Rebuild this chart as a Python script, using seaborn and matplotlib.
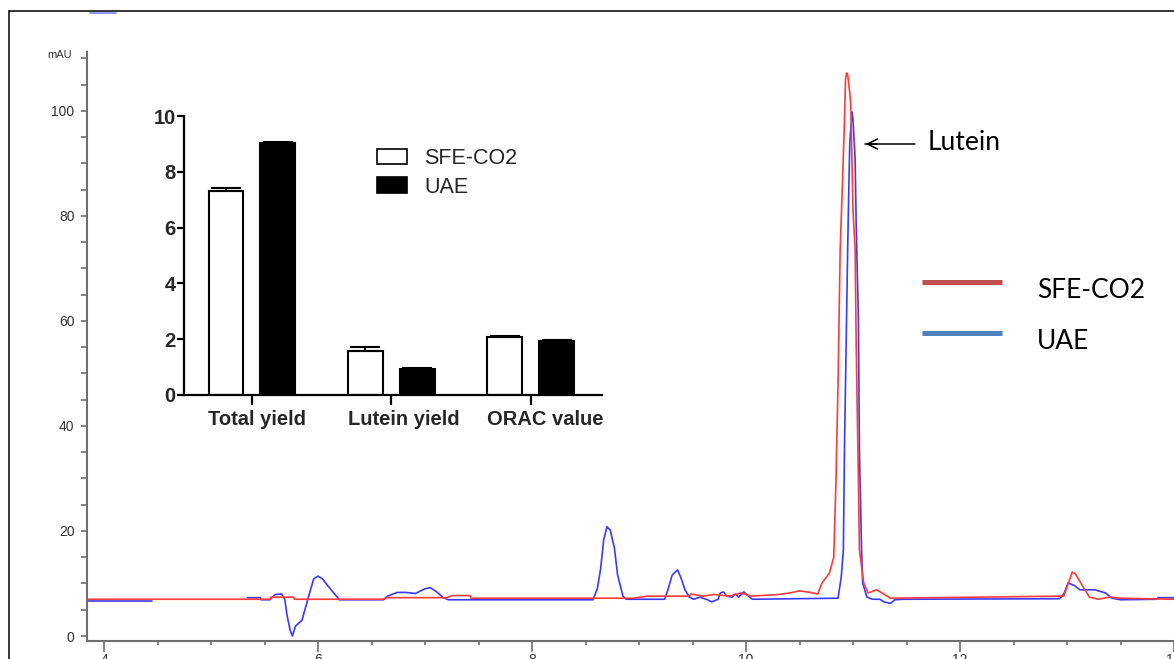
import numpy as np
import pandas as pd
import matplotlib
matplotlib.use("Agg")
import matplotlib.pyplot as plt
import seaborn as sns
from matplotlib.lines import Line2D
from matplotlib.patches import Patch
from matplotlib.ticker import MultipleLocator
from matplotlib.transforms import ScaledTranslation

# --- chromatogram traces (time in min, absorbance in mAU) ---
red_t = [3.84, 5.55, 5.56, 5.77, 5.78, 6.62, 6.63, 7.20, 7.26, 7.42, 7.43, 8.95, 9.08, 9.47,
         9.48, 9.60, 9.70, 9.85, 9.95, 10.05, 10.30, 10.41, 10.50, 10.60, 10.67, 10.71, 10.78,
         10.82, 10.84, 10.86, 10.88, 10.90, 10.92, 10.93, 10.94, 10.95, 10.97, 10.98, 10.99,
         11.00, 11.02, 11.03, 11.05, 11.06, 11.10, 11.14, 11.22, 11.27, 11.35, 12.97, 13.05,
         13.08, 13.14, 13.21, 13.29, 13.40, 13.50, 14.00]
red_y = [7.0, 7.0, 7.4, 7.4, 7.0, 7.0, 7.3, 7.3, 7.7, 7.7, 7.2, 7.2, 7.6, 7.6,
         8.0, 7.6, 7.9, 7.6, 8.2, 7.6, 7.9, 8.2, 8.6, 8.3, 8.0, 10.1, 12.0,
         15.0, 29.0, 48.0, 73.5, 85.5, 98.0, 106.0, 107.2, 106.9, 103.4, 100.8, 90.7,
         81.0, 73.5, 55.0, 30.0, 16.4, 10.1, 8.2, 8.8, 8.2, 7.2, 7.6, 12.2,
         11.8, 9.7, 7.4, 7.0, 7.4, 7.2, 7.0]

# blue trace has a break between ~4.45 and ~5.34 min
blue_t1 = [3.84, 4.45]
blue_y1 = [6.7, 6.7]
blue_t2 = [5.34, 5.46, 5.47, 5.55, 5.60, 5.66, 5.69, 5.71, 5.74, 5.76, 5.79, 5.85, 5.89, 5.93,
           5.96, 6.00, 6.04, 6.11, 6.18, 6.20, 6.61, 6.65, 6.74, 6.82, 6.91, 7.00, 7.05, 7.11,
           7.17, 7.22, 8.57, 8.61, 8.64, 8.67, 8.70, 8.73, 8.77, 8.80, 8.85, 8.88, 9.24, 9.27,
           9.31, 9.36, 9.39, 9.43, 9.47, 9.51, 9.57, 9.64, 9.68, 9.74, 9.76, 9.79, 9.82, 9.87,
           9.90, 9.93, 9.98, 10.01, 10.06, 10.86, 10.89, 10.91, 10.92, 10.94, 10.95, 10.96,
           10.97, 10.99, 11.00, 11.02, 11.03, 11.05, 11.06, 11.08, 11.09, 11.13, 11.18, 11.25,
           11.29, 11.35, 11.39, 11.47, 12.93, 12.97, 13.01, 13.07, 13.12, 13.26, 13.36, 13.42,
           13.50, 13.84, 13.85, 14.00]
blue_y2 = [7.3, 7.3, 6.9, 6.9, 7.9, 8.0, 6.9, 4.0, 1.1, 0.0, 1.9, 3.0, 5.9, 8.8,
           10.9, 11.4, 10.9, 9.1, 7.4, 6.9, 6.9, 7.6, 8.3, 8.3, 8.1, 9.0, 9.2, 8.4,
           7.3, 6.9, 6.9, 9.0, 12.6, 18.3, 20.8, 20.2, 16.8, 11.6, 7.6, 7.0, 7.0, 8.8,
           11.6, 12.6, 11.2, 8.8, 7.4, 7.0, 7.4, 6.9, 6.5, 7.0, 8.2, 8.4, 7.6, 7.4,
           8.0, 7.4, 8.4, 7.8, 7.0, 7.2, 11.2, 16.4, 35.4, 60.8, 73.5, 84.4,
           93.9, 99.8, 98.3, 90.7, 78.0, 60.8, 35.4, 16.4, 10.1, 7.4, 7.0, 7.0,
           6.5, 6.2, 6.9, 7.0, 7.1, 8.0, 10.1, 9.6, 8.8, 8.8, 8.2, 7.2,
           6.9, 7.0, 7.3, 7.3]

# --- inset bar chart ---
metrics = ["Total yield", "Lutein yield", "ORAC value"]
methods = ["SFE-CO2", "UAE"]
sfe_vals = [7.32, 1.59, 2.08]
uae_vals = [9.02, 0.94, 1.95]
sfe_err = [0.09, 0.12, 0.03]
uae_err = [0.04, 0.04, 0.03]

sns.set_style("ticks")
plt.rcParams["font.family"] = ["Liberation Sans", "DejaVu Sans"]

W, H = 1174, 659
fig = plt.figure(figsize=(W / 100, H / 100), dpi=100)


def fx(px):
    return px / W


def fy(py):
    return 1 - py / H


# main chromatogram axes
ax = fig.add_axes([fx(87), fy(641), fx(1174) - fx(87), fy(52) - fy(641)])
trace_df = pd.concat([
    pd.DataFrame({"time": blue_t1, "mAU": blue_y1, "trace": "UAE", "seg": "b1"}),
    pd.DataFrame({"time": blue_t2, "mAU": blue_y2, "trace": "UAE", "seg": "b2"}),
    pd.DataFrame({"time": red_t, "mAU": red_y, "trace": "SFE-CO2", "seg": "r1"}),
])
sns.lineplot(data=trace_df, x="time", y="mAU", hue="trace", units="seg",
             estimator=None, sort=False, hue_order=["UAE", "SFE-CO2"],
             palette={"UAE": "#3a3aff", "SFE-CO2": "#ff3a3a"},
             linewidth=1.2, legend=False, ax=ax)
ax.set_xlim(3.841, 14.0)
ax.set_ylim(-0.95, 111.2)
ax.set_xlabel("")
ax.set_ylabel("")
sns.despine(ax=ax)
gray = "#6e6e6e"
for s in ["left", "bottom"]:
    ax.spines[s].set_color(gray)
    ax.spines[s].set_linewidth(1.5)
ax.xaxis.set_major_locator(MultipleLocator(2))
ax.xaxis.set_minor_locator(MultipleLocator(0.5))
ax.yaxis.set_major_locator(MultipleLocator(20))
ax.yaxis.set_minor_locator(MultipleLocator(5))
ax.tick_params(axis="x", which="major", length=8, width=1.2, color=gray, labelsize=10,
               labelcolor="#333333", pad=1)
ax.tick_params(axis="x", which="minor", length=3, width=1.2, color=gray)
ax.tick_params(axis="y", which="both", length=4, width=1.2, color=gray, labelsize=10,
               labelcolor="#333333", pad=5)
fig.text(fx(47), fy(55), "mAU", fontsize=8, color="#333333", ha="left", va="center")

# Lutein annotation
fig.add_artist(Line2D([fx(865), fx(915)], [fy(144), fy(144)], color="black", lw=1.1))
ax.annotate("", xy=(fx(863), fy(144)), xytext=(fx(880), fy(144)),
            xycoords="figure fraction", textcoords="figure fraction",
            arrowprops=dict(arrowstyle="->", color="black", lw=1.1, mutation_scale=18))
fig.text(fx(928), fy(150), "Lutein", fontsize=19, family=["Lato", "DejaVu Sans"],
         ha="left", va="baseline", color="black")

# right-hand legend for the traces
for ypx, col, lab in [(282, "#C0504D", "SFE-CO2"), (333, "#4F81BD", "UAE")]:
    fig.add_artist(Line2D([fx(922), fx(1002)], [fy(ypx), fy(ypx)], color=col, lw=3.6,
                          solid_capstyle="butt"))
    fig.text(fx(1037), fy(ypx + 16), lab, fontsize=19, family=["Lato", "DejaVu Sans"],
             ha="left", va="baseline", color="black")

# outer frame and small marks
fig.add_artist(Line2D([fx(9), fx(1174)], [fy(11), fy(11)], color="black", lw=1.1))
fig.add_artist(Line2D([fx(9), fx(9)], [fy(11), fy(659)], color="black", lw=1.1))
fig.add_artist(Line2D([fx(90), fx(116)], [fy(13), fy(13)], color="#8080ff", lw=1.2))

# inset bar chart
ax_in = fig.add_axes([fx(184), fy(395), fx(602) - fx(184), fy(116) - fy(395)])
bar_df = pd.DataFrame({
    "metric": metrics * 2,
    "method": [methods[0]] * 3 + [methods[1]] * 3,
    "value": sfe_vals + uae_vals,
})
sns.barplot(data=bar_df, x="metric", y="value", hue="method", hue_order=methods,
            palette={"SFE-CO2": "white", "UAE": "black"}, edgecolor="black",
            linewidth=1.5, width=0.745, gap=0.33, errorbar=None, legend=False, ax=ax_in)
for cont, errs in zip(ax_in.containers, [sfe_err, uae_err]):
    xs = [b.get_x() + b.get_width() / 2 for b in cont]
    hs = [b.get_height() for b in cont]
    ax_in.errorbar(xs, hs, yerr=[np.zeros(len(errs)), errs], fmt="none", ecolor="black",
                   elinewidth=1.5, capsize=11, capthick=1.5, zorder=1)
ax_in.set_xlim(-0.487, 2.51)
ax_in.set_ylim(0, 10)
ax_in.set_xlabel("")
ax_in.set_ylabel("")
ax_in.set_facecolor("none")
sns.despine(ax=ax_in)
for s in ["left", "bottom"]:
    ax_in.spines[s].set_linewidth(1.6)
    ax_in.spines[s].set_color("black")
ax_in.yaxis.set_major_locator(MultipleLocator(2))
ax_in.tick_params(axis="y", length=5, width=1.6, color="black", labelsize=14.5, pad=1)
ax_in.tick_params(axis="x", length=7, width=1.6, color="black", labelsize=14.5, pad=4)
for lbl in ax_in.get_yticklabels() + ax_in.get_xticklabels():
    lbl.set_fontweight("bold")
shift = ScaledTranslation(-0.435, 0, fig.dpi_scale_trans)
for lbl in ax_in.get_xticklabels():
    lbl.set_ha("left")
    lbl.set_transform(lbl.get_transform() + shift)

handles = [Patch(facecolor="white", edgecolor="black", linewidth=1.2),
           Patch(facecolor="black", edgecolor="black", linewidth=1.2)]
ax_in.legend(handles, methods, loc="upper left",
             bbox_to_anchor=(fx(377), fy(148)), bbox_transform=fig.transFigure,
             frameon=False, fontsize=15.5, handlelength=1.4, handleheight=0.75,
             handletextpad=0.8, labelspacing=0.35, borderpad=0, borderaxespad=0)

fig.savefig("out.png", dpi=100)
